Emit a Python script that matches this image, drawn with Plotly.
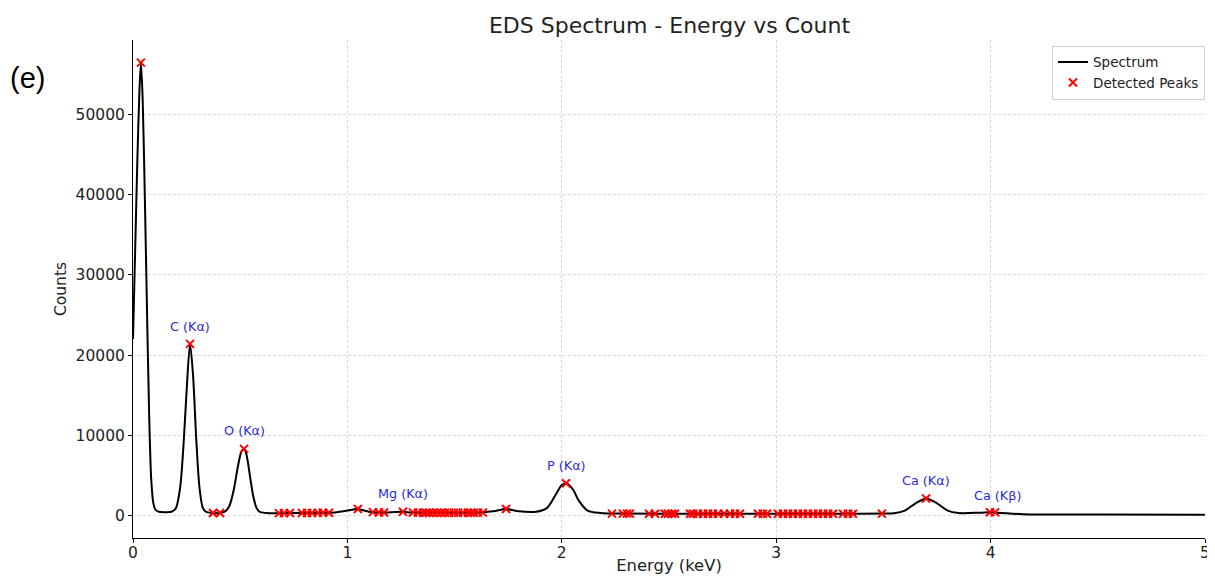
import plotly.graph_objects as go

# Spectrum
energy_kev = [0.000, 0.010, 0.020, 0.030, 0.037, 0.045, 0.055, 0.065, 0.075, 0.085, 0.095, 0.105,
              0.120, 0.150, 0.180, 0.200, 0.220, 0.235, 0.250, 0.266, 0.280, 0.295, 0.310, 0.325,
              0.340, 0.370, 0.400, 0.430, 0.450, 0.470, 0.490, 0.505, 0.518, 0.530, 0.545, 0.560,
              0.575, 0.590, 0.620, 0.700, 0.800, 0.900, 0.950, 1.000, 1.049, 1.100, 1.150, 1.200,
              1.259, 1.300, 1.400, 1.500, 1.600, 1.680, 1.740, 1.800, 1.880, 1.930, 1.970, 2.000,
              2.020, 2.050, 2.080, 2.120, 2.180, 2.300, 2.600, 3.000, 3.300, 3.500, 3.550, 3.600,
              3.650, 3.700, 3.750, 3.800, 3.850, 3.950, 4.000, 4.050, 4.150, 4.500, 5.000]
counts = [22000, 33000, 44000, 53000, 56500, 52000, 40000, 26000, 13000, 4500, 1500, 700,
          450, 400, 450, 900, 3500, 8500, 15500, 21400, 17500, 9500, 3500, 1000,
          450, 300, 300, 500, 1200, 3200, 6200, 7900, 8300, 7500, 5000, 2500,
          1000, 450, 300, 280, 300, 330, 400, 600, 800, 450, 350, 380,
          450, 350, 330, 320, 350, 500, 800, 500, 450, 900, 2500, 3800,
          4000, 3300, 1800, 600, 300, 220, 200, 200, 200, 220, 260, 600,
          1500, 2100, 1500, 600, 300, 330, 380, 300, 150, 100, 80]

# Detected peaks
peak_energy = [0.037, 0.266, 0.373, 0.406, 0.518, 0.681, 0.704, 0.732, 0.788, 0.812, 0.835, 0.863,
               0.886, 0.914, 1.049, 1.119, 1.147, 1.171, 1.259, 1.306, 1.329, 1.353, 1.367, 1.381,
               1.399, 1.418, 1.437, 1.455, 1.474, 1.497, 1.516, 1.539, 1.562, 1.576, 1.590, 1.609,
               1.632, 1.740, 2.020, 2.234, 2.285, 2.304, 2.318, 2.407, 2.435, 2.481, 2.495, 2.514,
               2.528, 2.598, 2.612, 2.635, 2.659, 2.682, 2.705, 2.729, 2.757, 2.785, 2.808, 2.831,
               2.915, 2.938, 2.957, 3.008, 3.032, 3.055, 3.078, 3.102, 3.125, 3.148, 3.172, 3.195,
               3.218, 3.242, 3.265, 3.312, 3.335, 3.358, 3.493, 3.699, 3.997, 4.021]
peak_counts = [56500, 21400, 300, 300, 8300, 280, 280, 285, 290, 300, 300, 310,
               320, 330, 800, 400, 360, 350, 450, 350, 340, 335, 335, 330,
               330, 330, 325, 325, 320, 320, 320, 320, 325, 330, 335, 340,
               345, 800, 4000, 220, 220, 215, 215, 210, 210, 205, 205, 205,
               205, 200, 200, 200, 200, 200, 200, 200, 200, 200, 200, 200,
               200, 200, 200, 200, 200, 200, 200, 200, 200, 200, 200, 200,
               200, 200, 200, 205, 205, 205, 220, 2100, 380, 370]

# Element labels
label_text = ["C (Kα)", "O (Kα)", "Mg (Kα)", "P (Kα)", "Ca (Kα)", "Ca (Kβ)"]
label_energy = [0.266, 0.518, 1.259, 2.020, 3.699, 4.030]
label_counts = [23600, 10600, 2700, 6200, 4350, 2500]

y_ticks = [0, 10000, 20000, 30000, 40000, 50000]
y_tick_text = ["0", "10000", "20000", "30000", "40000", "50000"]
x_ticks = [0, 1, 2, 3, 4, 5]

# The page body adds an 8 px offset; figure coordinates = reference pixels - 8
W, H = 1207, 567
L, R = 125, 1197          # plot area left/right (figure px)
T, B = 32.4, 529.6        # plot area top/bottom (figure px)

fig = go.Figure()
fig.add_trace(go.Scatter(x=energy_kev, y=counts, mode="lines", name="Spectrum",
                         line=dict(color="black", width=2, shape="spline", smoothing=0.8)))
fig.add_trace(go.Scatter(x=peak_energy, y=peak_counts, mode="markers", name="Detected Peaks",
                         marker=dict(symbol="x-thin", size=8, color="red",
                                     line=dict(color="red", width=2))))

for t, xe, yc in zip(label_text, label_energy, label_counts):
    fig.add_annotation(x=xe, y=yc, text=t, showarrow=False, xanchor="center", yanchor="middle",
                       font=dict(family="DejaVu Sans", size=12.8, color="#2b2bdd"))

fig.add_annotation(x=(0 - L) / (R - L), y=(B - 70) / (B - T), xref="paper", yref="paper",
                   text="(e)", showarrow=False, xanchor="left", yanchor="middle",
                   font=dict(family="Liberation Sans, Arial", size=29, color="black"))

grid = dict(showgrid=True, gridcolor="#d9d9d9", gridwidth=1, griddash="3px,2px")
fig.update_layout(
    width=W, height=H,
    margin=dict(l=L, r=W - R, t=T, b=H - B, pad=0, autoexpand=False),
    paper_bgcolor="white", plot_bgcolor="white",
    title=dict(text="EDS Spectrum - Energy vs Count", x=661.5 / W, xanchor="center",
               y=1 - 17 / H, yanchor="middle",
               font=dict(family="DejaVu Sans", size=22, color="#222")),
    font=dict(family="DejaVu Sans", color="#222"),
    showlegend=True,
    legend=dict(x=1, y=(B - 38) / (B - T), xanchor="right", yanchor="top", bgcolor="white",
                bordercolor="#d0d0d0", borderwidth=1, font=dict(family="DejaVu Sans", size=13.5)),
    xaxis=dict(range=[0, 5], tickvals=x_ticks, ticks="outside", ticklen=4, tickcolor="black",
               showline=True, linecolor="black", linewidth=1, zeroline=False, automargin=False,
               ticklabelstandoff=-4,
               title=dict(text="Energy (keV)", font=dict(size=16.4), standoff=6),
               tickfont=dict(size=15.5), **grid),
    yaxis=dict(range=[-2825, 59325], tickvals=y_ticks, ticktext=y_tick_text, ticks="outside",
               ticklen=4, tickcolor="black",
               showline=True, linecolor="black", linewidth=1, zeroline=False, automargin=False,
               title=dict(text="Counts", font=dict(size=15.5), standoff=5),
               tickfont=dict(size=15.5), **grid),
)

fig.write_html("out.html")
